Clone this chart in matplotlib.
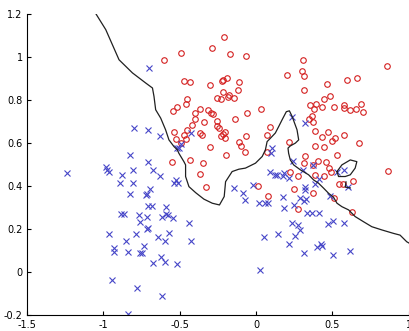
import numpy as np
import matplotlib
matplotlib.use('Agg')
import matplotlib.pyplot as plt

# class 1 (red circles)
x1 = [-0.21,-0.49,-0.29,-0.60,-0.17,-0.067,-0.47,-0.43,-0.30,-0.19,-0.225,-0.215,-0.11,-0.12,-0.217,
      -0.256,-0.23,-0.184,-0.178,-0.147,-0.45,-0.46,-0.515,-0.544,-0.367,-0.317,-0.295,-0.28,-0.40,-0.06,0.031,
      -0.40,-0.341,-0.254,-0.139,-0.417,-0.252,-0.242,-0.452,-0.537,-0.472,-0.367,-0.352,-0.204,-0.214,-0.232,
      -0.20,-0.062,-0.524,-0.459,-0.493,-0.112,-0.095,-0.302,-0.075,-0.199,-0.548,-0.435,-0.348,-0.367,-0.324,
      0.095,0.075,0.075,0.014,0.077,
      0.306,0.857,0.201,0.30,0.312,0.594,0.661,0.467,0.317,0.482,0.443,0.352,0.391,0.382,0.432,0.513,0.58,0.58,
      0.685,0.657,0.618,0.703,
      0.367,0.345,0.371,0.389,0.472,0.433,0.515,0.498,0.576,0.675,0.214,0.389,0.446,0.528,0.324,0.406,0.461,
      0.312,0.374,0.476,0.489,0.389,0.443,0.225,0.273,0.541,0.57,0.639,0.862,0.25,0.371,0.509,0.273,0.629]
y1 = [1.093,1.017,1.043,0.986,1.012,1.005,0.89,0.882,0.870,0.902,0.89,0.893,0.882,0.845,0.839,
      0.811,0.805,0.815,0.825,0.811,0.807,0.783,0.766,0.747,0.758,0.752,0.742,0.737,0.742,0.742,0.758,
      0.712,0.700,0.704,0.713,0.682,0.678,0.672,0.662,0.651,0.640,0.646,0.638,0.651,0.642,0.635,
      0.623,0.634,0.62,0.62,0.60,0.603,0.589,0.580,0.558,0.547,0.513,0.522,0.507,0.457,0.398,
      0.673,0.639,0.561,0.401,0.355,
      0.984,0.96,0.918,0.935,0.910,0.894,0.902,0.873,0.848,0.820,0.805,0.775,0.783,0.76,0.770,0.766,0.778,0.764,
      0.783,0.76,0.752,0.746,
      0.727,0.713,0.70,0.656,0.651,0.628,0.623,0.612,0.64,0.601,0.603,0.587,0.581,0.546,0.538,0.518,0.512,
      0.51,0.499,0.484,0.468,0.453,0.449,0.465,0.446,0.411,0.411,0.423,0.471,0.387,0.37,0.347,0.293,0.28]

# class 2 (blue crosses)
x2 = [-0.70,
      -0.705,-0.626,-0.49,-0.424,-0.52,-0.507,-0.709,-0.674,-0.629,-0.526,-0.535,-0.511,-0.694,-0.716,-0.709,
      -0.678,-0.59,-0.587,-0.143,-0.086,-0.075,-0.021,0.018,0.062,0.08,0.095,0.127,0.106,0.097,
      -0.799,-0.825,-1.24,-0.984,-0.979,-0.966,-0.879,-0.803,-0.89,-0.803,-0.825,-0.722,-0.885,-0.865,-0.766,
      -0.76,-0.716,-0.705,-0.962,-0.788,-0.853,-0.733,-0.929,-0.929,-0.835,-0.761,-0.748,-0.944,-0.781,-0.835,
      -0.613,-0.574,-0.544,-0.711,-0.439,-0.57,-0.639,-0.596,-0.428,-0.674,-0.624,-0.596,-0.515,-0.618,0.056,0.029,
      0.236,0.324,0.24,0.182,0.175,0.214,0.138,0.306,0.531,0.574,0.411,0.389,0.602,0.319,0.324,0.175,0.291,
      0.312,0.328,0.487,0.247,0.182,0.335,0.367,0.41,0.374,
      0.236,0.275,0.291,0.254,0.145,0.219,0.317,0.472,0.502,0.58,0.40,0.424,0.433,0.502,0.618]
y2 = [0.95,
      0.659,0.634,0.597,0.646,0.577,0.577,0.512,0.476,0.448,0.429,0.414,0.414,0.387,0.364,0.308,
      0.308,0.304,0.271,0.394,0.367,0.335,0.406,0.321,0.324,0.321,0.468,0.452,0.577,0.553,
      0.670,0.546,0.46,0.487,0.476,0.465,0.451,0.473,0.414,0.417,0.364,0.358,0.272,0.272,0.266,
      0.235,0.256,0.205,0.178,0.178,0.146,0.122,0.112,0.093,0.093,0.091,0.088,-0.037,-0.074,-0.191,
      0.259,0.267,0.251,0.20,0.231,0.184,0.163,0.147,0.146,0.045,0.070,0.049,0.037,-0.109,0.163,0.011,
      0.721,0.693,0.518,0.463,0.448,0.437,0.453,0.476,0.468,0.473,0.433,0.411,0.398,0.395,0.383,0.349,0.344,
      0.333,0.34,0.355,0.313,0.298,0.277,0.274,0.274,0.499,
      0.228,0.219,0.197,0.169,0.178,0.132,0.088,0.225,0.237,0.228,0.119,0.132,0.122,0.082,0.10]

# decision boundary
bx = [-1.049,-0.984,-0.897,-0.809,-0.722,-0.678,-0.668,-0.657,-0.624,-0.592,-0.570,-0.537,-0.515,-0.505,
      -0.472,-0.461,-0.461,-0.439,-0.395,-0.341,-0.286,-0.239,-0.208,-0.199,-0.156,-0.112,-0.069,-0.003,
      0.041,0.062,0.073,0.095,0.127,0.149,0.171,0.199,0.219,0.237,0.269,0.280,0.258,0.225,0.210,0.214,
      0.225,0.247,0.291,0.345,0.378,0.410,0.443,0.476,0.508,0.531,0.563,0.607,0.650,0.705,0.759,0.825,
      0.901,0.944,0.988,1.003]
by = [1.201,1.127,0.987,0.926,0.879,0.856,0.817,0.755,0.716,0.662,0.615,0.584,0.569,0.553,
      0.514,0.499,0.445,0.398,0.370,0.340,0.321,0.313,0.352,0.421,0.468,0.479,0.484,0.507,
      0.538,0.569,0.607,0.623,0.647,0.677,0.708,0.746,0.750,0.724,0.662,0.615,0.600,0.587,0.577,0.553,
      0.522,0.499,0.476,0.453,0.429,0.414,0.391,0.367,0.349,0.321,0.305,0.290,0.259,0.235,0.212,0.197,
      0.181,0.173,0.142,0.136]
# small island
ix = [0.531,0.563,0.618,0.661,0.650,0.618,0.585,0.541,0.531]
iy = [0.468,0.499,0.522,0.514,0.484,0.453,0.445,0.445,0.468]
hx = [0.59,0.585,0.618]
hy = [0.42,0.396,0.392]

fig = plt.figure(figsize=(4.09, 3.31), dpi=100)
ax = fig.add_axes([0.066, 0.047, 0.933, 0.911])

ax.plot(x1, y1, 'o', mfc='none', mec='#d42020', ms=4, mew=0.8)
ax.plot(x2, y2, 'x', color='#4646c8', ms=4, mew=0.8)
ax.plot(bx, by, '-', color='#202020', lw=0.9)
ax.plot(ix, iy, '-', color='#202020', lw=0.9)
ax.plot(hx, hy, '-', color='#202020', lw=0.9)

ax.set_xlim(-1.5, 1)
ax.set_ylim(-0.2, 1.2)
xt = [-1.5, -1, -0.5, 0, 0.5, 1]
yt = [-0.2, 0, 0.2, 0.4, 0.6, 0.8, 1, 1.2]
ax.set_xticks(xt)
ax.set_xticklabels(['%g' % v for v in xt])
ax.set_yticks(yt)
ax.set_yticklabels(['%g' % v for v in yt])
ax.tick_params(direction='in', length=3, width=0.8, labelsize=7, pad=3)
ax.spines['top'].set_visible(False)
ax.spines['right'].set_visible(False)

fig.savefig('out.png', dpi=100)
